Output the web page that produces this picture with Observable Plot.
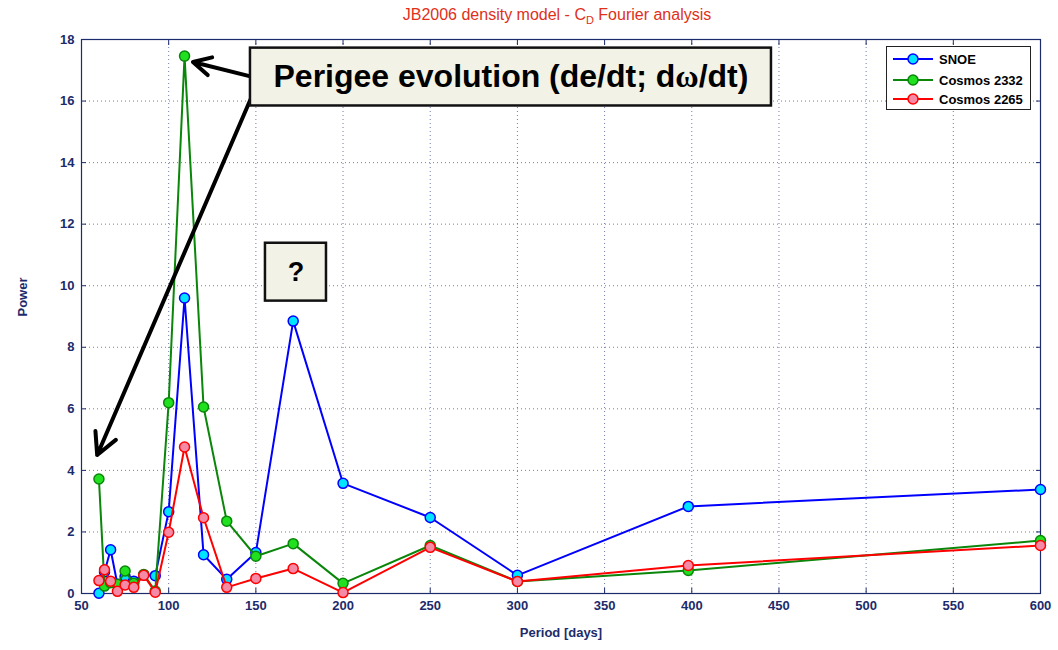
<!DOCTYPE html>
<html><head><meta charset="utf-8">
<script src="https://cdn.jsdelivr.net/npm/d3@7"></script>
<script src="https://cdn.jsdelivr.net/npm/@observablehq/plot@0.6"></script>
<style>
body{margin:0;background:#fff;font-family:"Liberation Sans",Arial,sans-serif;}
#wrap{position:relative;width:1058px;height:650px;overflow:hidden;}
#title{position:relative;height:30px;}
#title span{position:absolute;left:557px;top:6px;transform:translateX(-50%);white-space:nowrap;color:#e0301a;font-size:16px;}
#title sub{font-size:11px;vertical-align:-4px;}
#legend{position:absolute;left:886px;top:46px;width:143px;height:62px;background:#fff;border:1px solid #222;}
#legend .row{position:absolute;left:6px;height:16px;display:flex;align-items:center;font-weight:bold;font-size:13px;color:#000;}
#legend svg{margin-right:6px;}
</style></head>
<body>
<div id="wrap">
<div id="title"><span>JB2006 density model - C<sub>D</sub> Fourier analysis</span></div>
<div id="chart"></div>
<div id="legend"></div>
</div>
<script>
const periods = [60, 63.2, 66.7, 70.6, 75, 80, 85.7, 92.3, 100, 109.1, 120, 133.3, 150, 171.4, 200, 250, 300, 398, 600];
const snoe = [0.01, 0.7, 1.42, 0.3, 0.55, 0.4, 0.6, 0.58, 2.66, 9.6, 1.26, 0.46, 1.33, 8.85, 3.58, 2.47, 0.59, 2.83, 3.38];
const cosmos2332 = [3.72, 0.24, 0.35, 0.3, 0.73, 0.33, 0.62, 0.08, 6.2, 17.46, 6.06, 2.35, 1.21, 1.62, 0.33, 1.56, 0.39, 0.75, 1.72];
const cosmos2265 = [0.42, 0.77, 0.4, 0.07, 0.28, 0.2, 0.59, 0.04, 1.99, 4.76, 2.46, 0.2, 0.49, 0.81, 0.03, 1.5, 0.39, 0.91, 1.56];
const seriesNames = ["SNOE", "Cosmos 2332", "Cosmos 2265"];
const lineColors = ["#0000ff", "#0a860a", "#ff0000"];
const markerFills = ["#00e5ff", "#20e020", "#f48aa6"];
const xTicks = [50, 100, 150, 200, 250, 300, 350, 400, 450, 500, 550, 600];
const yTicks = [0, 2, 4, 6, 8, 10, 12, 14, 16, 18];

// annotations (data coordinates)
const annBoxes = [
  {x1: 146.9, x2: 445.7, y1: 15.84, y2: 17.72, label: "Perigee evolution (de/dt; dω/dt)", size: 32},
  {x1: 155.5, x2: 190.5, y1: 9.5, y2: 11.38, label: "?", size: 27}
];
const annArrows = [
  {x1: 146.9, y1: 16.8, x2: 113.9, y2: 17.27},
  {x1: 146.9, y1: 16.05, x2: 59.0, y2: 4.5}
];

const allValues = [snoe, cosmos2332, cosmos2265];
const rows = [];
allValues.forEach((vals, s) => vals.forEach((v, i) => rows.push({series: seriesNames[s], si: s, period: periods[i], power: v})));

const navy = "#1c2b6b";
const marks = [
  Plot.gridX(xTicks, {stroke: "#34448a", strokeOpacity: 0.7, strokeDasharray: "1,3"}),
  Plot.gridY(yTicks, {stroke: "#34448a", strokeOpacity: 0.7, strokeDasharray: "1,3"}),
  Plot.axisX(xTicks, {anchor: "bottom", tickSize: -5, tickPadding: 12, fontSize: 13, fontWeight: "bold", fill: navy, stroke: navy, label: null}),
  Plot.axisX(xTicks, {anchor: "top", tickSize: -5, tickFormat: () => "", stroke: navy, label: null}),
  Plot.axisY(yTicks, {anchor: "left", tickSize: -5, tickPadding: 12, fontSize: 13, fontWeight: "bold", fill: navy, stroke: navy, label: null}),
  Plot.axisY(yTicks, {anchor: "right", tickSize: -5, tickFormat: () => "", stroke: navy, label: null}),
  Plot.frame({stroke: navy, strokeWidth: 1.2})
];
seriesNames.forEach((name, s) => {
  const d = rows.filter(r => r.si === s);
  marks.push(Plot.line(d, {x: "period", y: "power", stroke: lineColors[s], strokeWidth: 2}));
  marks.push(Plot.dot(d, {x: "period", y: "power", r: 5, fill: markerFills[s], stroke: lineColors[s], strokeWidth: 1.5}));
});
marks.push(
  Plot.arrow(annArrows, {x1: "x1", y1: "y1", x2: "x2", y2: "y2", stroke: "#000", strokeWidth: 4, headLength: 9, headAngle: 55}),
  Plot.rect(annBoxes, {x1: "x1", x2: "x2", y1: "y1", y2: "y2", fill: "#f3f2e7", stroke: "#111", strokeWidth: 2.5}),
  Plot.text(annBoxes, {x: d => (d.x1 + d.x2) / 2, y: d => (d.y1 + d.y2) / 2, text: "label", fontSize: d => d.size, fontWeight: "bold", fill: "#000"}),
  Plot.text([0], {frameAnchor: "bottom", dy: 43, text: () => "Period [days]", fontSize: 13, fontWeight: "bold", fill: navy}),
  Plot.text([0], {frameAnchor: "left", dx: -59, dy: 0, rotate: -90, text: () => "Power", fontSize: 13, fontWeight: "bold", fill: navy})
);

const chart = Plot.plot({
  width: 1058,
  height: 620,
  marginTop: 9,
  marginBottom: 57,
  marginLeft: 81,
  marginRight: 18,
  style: {fontFamily: "'Liberation Sans', Arial, sans-serif", background: "#fff"},
  x: {domain: [50, 600], ticks: xTicks},
  y: {domain: [0, 18], ticks: yTicks},
  marks
});
document.getElementById("chart").appendChild(chart);

// serif omega like the reference
chart.querySelectorAll("text").forEach(t => {
  const s = t.textContent;
  const k = s.indexOf("ω");
  if (k >= 0 && t.children.length === 0) {
    t.textContent = "";
    t.appendChild(document.createTextNode(s.slice(0, k)));
    const ts = document.createElementNS("http://www.w3.org/2000/svg", "tspan");
    ts.setAttribute("font-family", "'Liberation Serif', 'Times New Roman', serif");
    ts.textContent = "ω";
    t.appendChild(ts);
    t.appendChild(document.createTextNode(s.slice(k + 1)));
  }
});

// legend
const leg = document.getElementById("legend");
const rowTops = [4, 25, 44];
seriesNames.forEach((name, s) => {
  const row = document.createElement("div");
  row.className = "row";
  row.style.top = rowTops[s] + "px";
  row.innerHTML = `<svg width="40" height="14"><line x1="0" y1="7" x2="40" y2="7" stroke="${lineColors[s]}" stroke-width="2"/><circle cx="20" cy="7" r="5" fill="${markerFills[s]}" stroke="${lineColors[s]}" stroke-width="1.5"/></svg><span>${name}</span>`;
  leg.appendChild(row);
});
</script>
</body></html>
